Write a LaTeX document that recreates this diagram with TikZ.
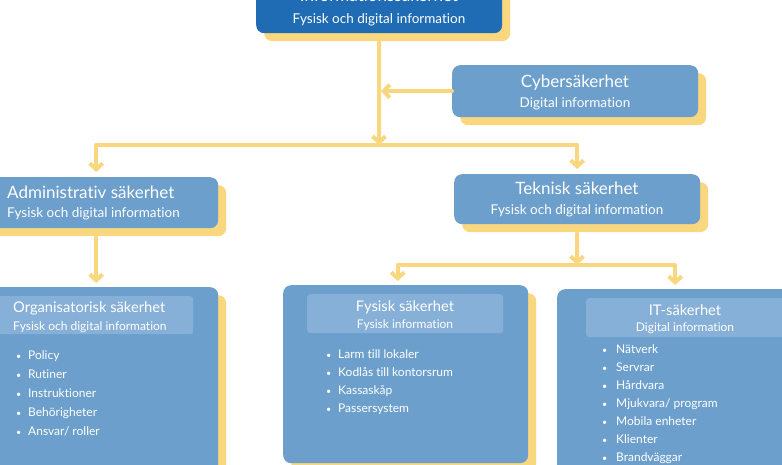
\documentclass[tikz,border=0pt]{standalone}
\usepackage{fontspec}
\setmainfont{Lato}[Ligatures=NoCommon]
\usetikzlibrary{arrows.meta,shadows}
\definecolor{infoblue}{HTML}{1F6CB4}
\definecolor{boxblue}{HTML}{6C9FCB}
\definecolor{headblue}{HTML}{87B0D8}
\definecolor{linkyellow}{HTML}{F8D77F}
\newcommand{\setsize}[1]{\fontsize{#1}{#1}\selectfont}
\begin{document}
\begin{tikzpicture}[
  x=1pt, y=-1pt,
  box/.style={rectangle, rounded corners=8pt, fill=boxblue, inner sep=0pt,
    general shadow={fill=linkyellow, shadow xshift=8pt, shadow yshift=-8pt}},
  head/.style={rectangle, rounded corners=3pt, fill=headblue, inner sep=0pt},
  txt/.style={text=white, inner sep=0pt, anchor=mid, yshift=-3.5pt},
  title/.style={txt, font=\setsize{17}},
  sub/.style={txt, font=\setsize{13.5}},
  htitle/.style={txt, font=\setsize{14.7}},
  hsub/.style={txt, font=\setsize{12}},
  item/.style={txt, anchor=mid west, font=\setsize{12}},
  link/.style={draw=linkyellow, line width=4pt, line cap=round, line join=round,
    -{Straight Barb[length=6pt, width=13pt]}}
]
\useasboundingbox (0,0) rectangle (782,465);

% boxes
\node[box, fill=infoblue, minimum width=246pt, minimum height=63pt, anchor=north west] (info) at (256,-30) {};
\node[box, minimum width=246pt, minimum height=52pt, anchor=north west] (cyber) at (452,65) {};
\node[box, minimum width=244pt, minimum height=51pt, anchor=north west] (admin) at (-26,177) {};
\node[box, minimum width=246pt, minimum height=50pt, anchor=north west] (tech) at (454,174) {};
\node[box, minimum width=244pt, minimum height=200pt, anchor=north west] (org) at (-26,287) {};
\node[box, minimum width=245pt, minimum height=178pt, anchor=north west] (fysisk) at (283,285) {};
\node[box, minimum width=250pt, minimum height=200pt, anchor=north west] (it) at (557,289) {};

% headers inside the lower boxes
\node[head, minimum width=203pt, minimum height=38pt, anchor=north west] (orghead) at (-10,296) {};
\node[head, minimum width=196pt, minimum height=39pt, anchor=north west] (fysiskhead) at (307,294) {};
\node[head, minimum width=210pt, minimum height=39pt, anchor=north west] (ithead) at (586,298) {};

% texts
\node[title] (infotitle) at (379,-5) {Informationssäkerhet};
\node[sub] (infosub) at (379,17) {Fysisk och digital information};
\node[title] (cybertitle) at (575,81) {Cybersäkerhet};
\node[sub] (cybersub) at (575,101) {Digital information};
\node[title, anchor=mid west] (admintitle) at (7,192) {Administrativ säkerhet};
\node[sub, anchor=mid west] (adminsub) at (7,211) {Fysisk och digital information};
\node[title] (techtitle) at (577,188) {Teknisk säkerhet};
\node[sub] (techsub) at (577,208) {Fysisk och digital information};
\node[htitle, anchor=mid west] (orgtitle) at (13,306) {Organisatorisk säkerhet};
\node[hsub, anchor=mid west] (orgsub) at (13,324) {Fysisk och digital information};
\node[htitle] (fysisktitle) at (405,305) {Fysisk säkerhet};
\node[hsub] (fysisksub) at (405,322) {Fysisk information};
\node[htitle] (ittitle) at (685,309) {IT-säkerhet};
\node[hsub] (itsub) at (685,325) {Digital information};

% bullet lists
\foreach \txt [count=\i] in {Policy, Rutiner, Instruktioner, Behörigheter, Ansvar/ roller}
  \node[item] (org-\i) at (16,334+19*\i) {\makebox[12pt][l]{\setsize{9}\textbullet}\txt};
\foreach \txt [count=\i] in {Larm till lokaler, Kodlås till kontorsrum, Kassaskåp, Passersystem}
  \node[item] (fysisk-\i) at (326,334+18*\i) {\makebox[12pt][l]{\setsize{9}\textbullet}\txt};
\foreach \txt [count=\i] in {Nätverk, Servrar, Hårdvara, Mjukvara/ program, Mobila enheter, Klienter, Brandväggar}
  \node[item] (it-\i) at (602,329+18*\i) {\makebox[14pt][l]{\setsize{9}\textbullet}\txt};

% connectors
\coordinate (split) at (379,145);
\coordinate (techsplit) at (577,265);
\draw[link, shorten <=9pt] (info) -- (split);
\draw[link, shorten >=2pt] (cyber.west) -- (cyber.west -| split);
\draw[link, shorten >=5pt] (split) -| (admin);
\draw[link, shorten >=5pt] (split) -| (tech);
\draw[link, shorten <=9pt, shorten >=4pt] (admin) -- (org);
\draw[link, shorten <=9pt] (tech) -- (techsplit);
\draw[link, shorten >=4pt] (techsplit) -| ([xshift=-8pt]fysisk.north);
\draw[link, shorten >=4pt] (techsplit) -| ([xshift=-7pt]it.north);
\end{tikzpicture}
\end{document}
